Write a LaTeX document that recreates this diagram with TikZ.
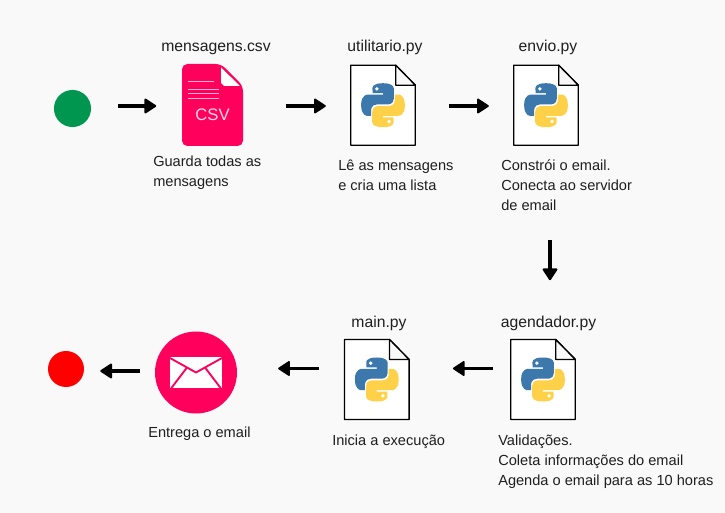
\documentclass[tikz,border=0pt]{standalone}
\usepackage{fontspec}
\setmainfont{Liberation Sans}
\usetikzlibrary{arrows.meta}
\definecolor{pagebg}{RGB}{249,249,249}
\definecolor{rosered}{RGB}{255,0,92}
\definecolor{pyblue}{RGB}{60,120,172}
\definecolor{pyyellow}{RGB}{255,209,72}
\tikzset{
  flowarrow/.style={line width=2.9pt,-{Triangle[length=9.5pt,width=12pt,round,line width=1.5pt]}},
  iconbox/.style={minimum width=48pt,minimum height=30pt,inner sep=0pt},
  titletext/.style={anchor=base,text=black!88,font=\fontsize{11.8}{14}\selectfont},
  bodytext/.style={anchor=west,align=left,inner sep=0pt,text=black!88,font=\fontsize{10.95}{15}\selectfont},
}
\newcommand{\pysnake}[1]{%
  \fill[#1] (54.9,0) .. controls (27,0) and (28.7,12.1) .. (28.7,12.1) -- (28.8,24.6) -- (55.4,24.6) -- (55.4,28.4) -- (18.2,28.4) .. controls (18.2,28.4) and (0.3,26.4) .. (0.3,54.5) .. controls (0.3,82.6) and (15.9,81.6) .. (15.9,81.6) -- (25.2,81.6) -- (25.2,68.5) .. controls (25.2,68.5) and (24.7,52.9) .. (40.6,52.9) -- (67.1,52.9) .. controls (67.1,52.9) and (82,53.1) .. (82,38.5) -- (82,14.4) .. controls (82,14.4) and (84.3,0) .. (54.9,0) -- cycle;
  \fill[white] (39.7,14.2) circle (4.8);
}
\newcommand{\pyfile}[2]{%
  \begin{scope}[shift={(#1,#2)}]
    %Shape: page
    \draw[line width=1pt,fill=white,line join=round] (-32.3,-40) -- (12.7,-40) -- (32.3,-20) -- (32.3,40) -- (-32.3,40) -- cycle;
    %Shape: fold
    \draw[line width=1pt,fill=pagebg,line join=round] (12.7,-40) -- (32.3,-20) -- (12.7,-20) -- cycle;
    %Shape: logo
    \begin{scope}[scale=0.4,shift={(-55,-55)}]
      \pysnake{pyblue}
    \end{scope}
    \begin{scope}[scale=0.4,rotate=180,shift={(-55,-55)}]
      \pysnake{pyyellow}
    \end{scope}
  \end{scope}
}
\begin{document}
\begin{tikzpicture}[x=0.75pt,y=0.75pt,yscale=-1,xscale=1]
\fill[pagebg] (0,0) rectangle (725,513);
\useasboundingbox (0,0) rectangle (725,513);

%Shape: start and end dots
\node (startdot) [circle,fill={rgb,255:red,0;green,150;blue,80},minimum size=27.8pt,inner sep=0pt] at (72.5,108.5) {};
\node (enddot) [circle,fill=red,minimum size=27pt,inner sep=0pt] at (66,369) {};

%Shape: csv file
\fill[rosered,rounded corners=4] (182,64) -- (221,64) -- (243,86) -- (243,146) -- (182,146) -- cycle;
\fill[white] (221,67.5) -- (240,86) -- (224,86) -- (221,83) -- cycle;
\foreach \liney/\lineend in {81/214,89.3/219,93.6/219,98/219}
  \draw[rosered!30!white,line width=0.7pt] (188,\liney) -- (\lineend,\liney);
\node (csvicon) [iconbox] at (212.5,106) {};
\node (csvmark) [text=white!85!rosered,font=\fontsize{12.5}{14}\selectfont,inner sep=0pt] at (212.5,114.3) {CSV};

%Shape: python files
\pyfile{383}{105.2}
\node (utilicon) [iconbox] at (383,106) {};
\pyfile{546}{105.2}
\node (envioicon) [iconbox] at (546,106) {};
\pyfile{543}{379.5}
\node (agendaicon) [iconbox] at (543,368.5) {};
\pyfile{376.8}{379.5}
\node (mainicon) [iconbox] at (376.8,368.5) {};

%Shape: email
\node (mailicon) [circle,fill=rosered,minimum size=61.5pt,inner sep=0pt] at (196,372.5) {};
\fill[white] (170,357) -- (222,357) -- (222,388) -- (170,388) -- cycle;
\draw[rosered,line width=1.4pt,line join=round] (170,358) -- (196,372.5) -- (222,358);
\draw[rosered,line width=1.4pt] (171,388.5) -- (187,367.5) (221,388.5) -- (205,367.5);

% Text Node
\draw (216,52) node (csvtitle) [titletext] {mensagens.csv};
\draw (385,52) node (utiltitle) [titletext] {utilitario.py};
\draw (548,52) node (enviotitle) [titletext] {envio.py};
\draw (548.5,327.5) node (agendatitle) [titletext] {agendador.py};
\draw (379,327.5) node (maintitle) [titletext] {main.py};

% Text Node
\draw (153,173) node (csvtext) [bodytext] {Guarda todas as\\mensagens};
\draw (338,175) node (utiltext) [bodytext] {Lê as mensagens\\e cria uma lista};
\draw (501,185) node (enviotext) [bodytext] {Constrói o email.\\Conecta ao servidor\\de email};
\draw (498,462) node (agendatext) [bodytext] {Validações.\\Coleta informações do email\\Agenda o email para as 10 horas};
\draw (332,442) node (maintext) [bodytext] {Inicia a execução};
\draw (148,434) node (mailtext) [bodytext] {Entrega o email};

%Arrows
\draw[flowarrow,shorten <=20.3pt,shorten >=18pt] (startdot.east |- csvicon.west) -- (csvicon.west);
\draw[flowarrow,shorten <=32.2pt,shorten >=18.7pt] (csvicon.west -| 243,0) -- (utilicon.west);
\draw[flowarrow,shorten <=25.5pt,shorten >=18.7pt] (utilicon.west -| 415,0) -- (envioicon.west);
\draw[flowarrow,shorten <=85.5pt,shorten >=51pt] ([xshift=3pt]envioicon.center |- 0,126) -- ([xshift=3pt]envioicon.center |- agendaicon.north);
\draw[flowarrow,shorten <=12.7pt,shorten >=33.7pt] (agendaicon.west -| 510,0) -- (mainicon.west -| 408,0);
\draw[flowarrow,shorten <=18.7pt,shorten >=30.7pt] (mainicon.west -| 344,0) -- (mainicon.west -| mailicon.east);
\draw[flowarrow,shorten <=11.2pt,shorten >=12pt] ([yshift=1.5pt]enddot.east -| mailicon.west) -- ([yshift=1.5pt]enddot.east);
\end{tikzpicture}
\end{document}
